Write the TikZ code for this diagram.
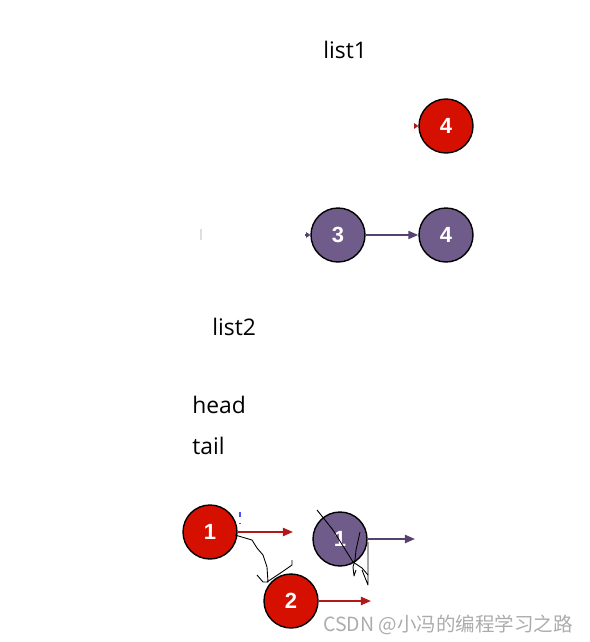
\documentclass[tikz,border=0pt]{standalone}
\usepackage{fontspec}
\setmainfont{Open Sans}
\newfontfamily\cjkfont{Noto Sans CJK SC}
\newfontfamily\numfont{Liberation Sans}
\usetikzlibrary{arrows.meta}
\definecolor{rosso}{RGB}{214,16,0}
\definecolor{viola}{RGB}{112,92,138}
\definecolor{rossofreccia}{RGB}{175,25,25}
\definecolor{violafreccia}{RGB}{85,66,110}
\begin{document}
\begin{tikzpicture}[x=0.02cm,y=-0.02cm,
    nodo/.style={circle, draw=black, line width=0.8pt, minimum size=1.08cm, inner sep=0pt,
        text=white, font=\numfont\bfseries\fontsize{12.5}{14}\selectfont},
    nodorosso/.style={nodo, fill=rosso},
    nodoviola/.style={nodo, fill=viola},
    frossa/.style={draw=rossofreccia, line width=1.1pt, -{Triangle[length=5.7pt,width=4.6pt]}},
    fviola/.style={draw=violafreccia, line width=1.1pt, -{Triangle[length=5.7pt,width=4.6pt]}},
    punta/.style={line width=0.8pt, -{Triangle[length=2.4pt,width=3.2pt]}},
    etichetta/.style={anchor=base west, inner sep=0pt, font=\fontsize{13}{15}\selectfont},
    schizzo/.style={draw=black, line width=0.5pt, line join=round}]
        \useasboundingbox (0,0) rectangle (589,642);

        % Disegna le etichette
        \node[etichetta] (l1) at (323,59) {list1};
        \node[etichetta] (l2) at (212,335) {list2};
        \node[etichetta] (hd) at (192,413) {head};
        \node[etichetta] (tl) at (192,454) {tail};

        % Disegna list1
        \node[nodorosso] (r4) at (446,126) {4};
        \node[nodoviola] (v3) at (338,235) {3};
        \node[nodoviola] (v4) at (446,235) {4};
        \coordinate (t4) at (415,126);
        \coordinate (t3) at (305,235);
        \draw[frossa, punta] (t4) -- (r4.west); % punta piccola
        \draw[fviola, punta] (t3) -- (v3.west); % punta piccola
        \draw[fviola] (v3) -- (v4);
        \draw[gray!25, line width=0.6pt] (201,229) -- (201,240);

        % Disegna list2
        \node[nodorosso] (r1) at (210,532) {1};
        \node[nodoviola] (v1) at (340,539) {1};
        \node[nodorosso] (r2) at (291,601) {2};
        \coordinate (f1) at (293,532);
        \coordinate (fv) at (415,539);
        \coordinate (f2) at (371,601);
        \draw[frossa] (r1.east) -- (f1);
        \draw[fviola] (v1.east) -- (fv);
        \draw[frossa] (r2.east) -- (f2);
        \draw[blue!70, dashed, line width=0.6pt] (240,512) -- (240,524); % segno blu

        % Disegna gli schizzi a mano
        \draw[schizzo] (235,535) -- (252,540) -- (257,548) -- (263,555) -- (267,567) -- (268,582)
            -- (263,582) -- (257,575);
        \draw[schizzo] (267,582) -- (282,572) -- (292,565) -- (292,560);
        \draw[schizzo] (317,510) -- (333,530) -- (353,562) -- (362,568) -- (368,575);
        \draw[schizzo] (368,542) -- (368,585) -- (362,570);
        \draw[schizzo] (360,532) -- (356,550) -- (355,560) -- (353,567) -- (354,576) -- (356,570);

        % Filigrana
        \node[anchor=base west, inner sep=0pt, text=gray!65, font=\cjkfont\fontsize{11.1}{12}\selectfont]
            (wm) at (323,631) {CSDN @小冯的编程学习之路};
    \end{tikzpicture}
\end{document}
